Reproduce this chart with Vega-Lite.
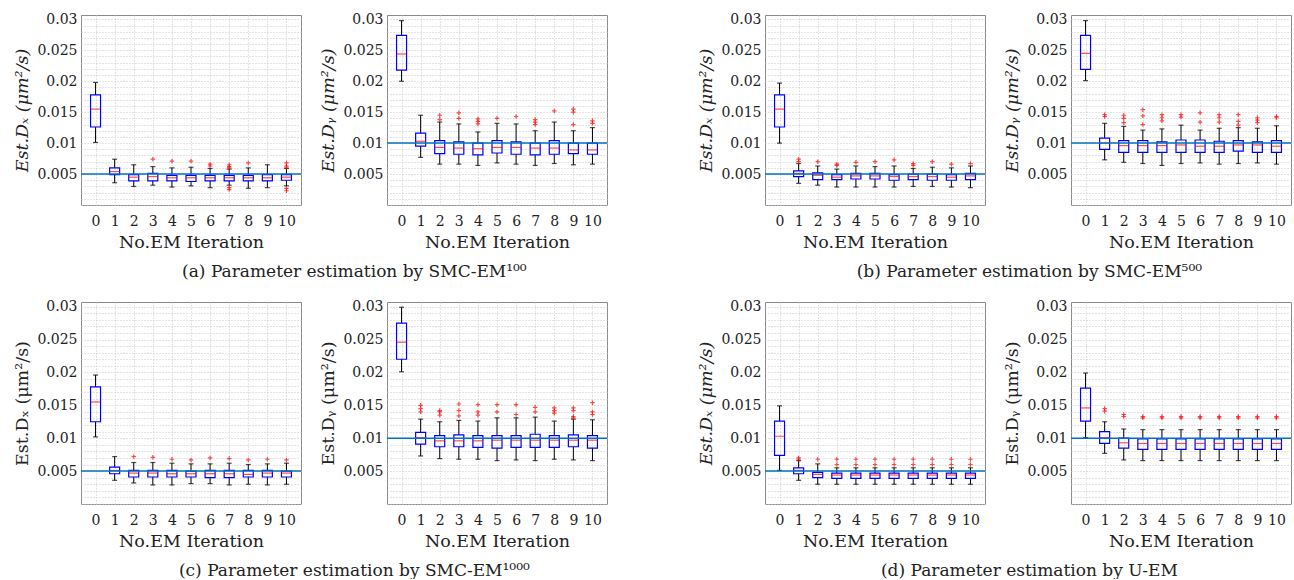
{
 "$schema": "https://vega.github.io/schema/vega-lite/v6.json",
 "padding": {"left": 12, "top": 11, "right": 0, "bottom": 0},
 "background": "white",
 "config": {
  "font": "DejaVu Serif",
  "view": {"stroke": "#8a8a8a", "strokeWidth": 1},
  "axis": {"domain": false, "ticks": false, "grid": true, "gridColor": "#c8c8c8", "gridDash": [1, 2], "labelFont": "DejaVu Serif", "labelFontSize": 14, "labelColor": "#222", "titleFont": "DejaVu Serif", "titleFontSize": 17.5, "titleFontWeight": "normal", "titleColor": "#222", "labelOverlap": false},
  "axisX": {"labelAngle": 0, "labelPadding": 9, "titlePadding": 5},
  "axisY": {"labelPadding": 4, "titlePadding": 6, "minExtent": 44, "maxExtent": 44},
  "title": {"font": "DejaVu Serif", "fontSize": 17, "fontWeight": "normal", "orient": "bottom", "anchor": "middle", "color": "#222", "offset": 13}
 },
 "datasets": {
  "b": [
   {"p":"a1","i":0,"lo":0.0101,"q1":0.0126,"m":0.0155,"q3":0.0178,"hi":0.0198},
   {"p":"a1","i":1,"lo":0.0036,"q1":0.0049,"m":0.0054,"q3":0.0060,"hi":0.0074},
   {"p":"a1","i":2,"lo":0.0030,"q1":0.0039,"m":0.0045,"q3":0.0049,"hi":0.0065},
   {"p":"a1","i":3,"lo":0.0032,"q1":0.0039,"m":0.0046,"q3":0.0051,"hi":0.0062},
   {"p":"a1","i":4,"lo":0.0029,"q1":0.0039,"m":0.0044,"q3":0.0048,"hi":0.0060},
   {"p":"a1","i":5,"lo":0.0031,"q1":0.0038,"m":0.0044,"q3":0.0048,"hi":0.0061},
   {"p":"a1","i":6,"lo":0.0028,"q1":0.0039,"m":0.0044,"q3":0.0048,"hi":0.0059},
   {"p":"a1","i":7,"lo":0.0032,"q1":0.0039,"m":0.0044,"q3":0.0048,"hi":0.0058},
   {"p":"a1","i":8,"lo":0.0027,"q1":0.0039,"m":0.0044,"q3":0.0048,"hi":0.0060},
   {"p":"a1","i":9,"lo":0.0028,"q1":0.0039,"m":0.0044,"q3":0.0049,"hi":0.0065},
   {"p":"a1","i":10,"lo":0.0031,"q1":0.0040,"m":0.0045,"q3":0.0049,"hi":0.0059},
   {"p":"a2","i":0,"lo":0.0200,"q1":0.0218,"m":0.0244,"q3":0.0274,"hi":0.0298},
   {"p":"a2","i":1,"lo":0.0077,"q1":0.0095,"m":0.0103,"q3":0.0116,"hi":0.0145},
   {"p":"a2","i":2,"lo":0.0066,"q1":0.0083,"m":0.0093,"q3":0.0104,"hi":0.0134},
   {"p":"a2","i":3,"lo":0.0066,"q1":0.0082,"m":0.0092,"q3":0.0102,"hi":0.0131},
   {"p":"a2","i":4,"lo":0.0064,"q1":0.0081,"m":0.0091,"q3":0.0100,"hi":0.0118},
   {"p":"a2","i":5,"lo":0.0068,"q1":0.0084,"m":0.0093,"q3":0.0104,"hi":0.0132},
   {"p":"a2","i":6,"lo":0.0066,"q1":0.0082,"m":0.0093,"q3":0.0102,"hi":0.0131},
   {"p":"a2","i":7,"lo":0.0064,"q1":0.0081,"m":0.0092,"q3":0.0100,"hi":0.0120},
   {"p":"a2","i":8,"lo":0.0067,"q1":0.0082,"m":0.0092,"q3":0.0104,"hi":0.0134},
   {"p":"a2","i":9,"lo":0.0065,"q1":0.0083,"m":0.0089,"q3":0.0100,"hi":0.0120},
   {"p":"a2","i":10,"lo":0.0066,"q1":0.0082,"m":0.0089,"q3":0.0100,"hi":0.0125},
   {"p":"b1","i":0,"lo":0.0100,"q1":0.0126,"m":0.0155,"q3":0.0178,"hi":0.0197},
   {"p":"b1","i":1,"lo":0.0035,"q1":0.0046,"m":0.0051,"q3":0.0055,"hi":0.0067},
   {"p":"b1","i":2,"lo":0.0032,"q1":0.0041,"m":0.0048,"q3":0.0052,"hi":0.0063},
   {"p":"b1","i":3,"lo":0.0029,"q1":0.0041,"m":0.0045,"q3":0.0049,"hi":0.0058},
   {"p":"b1","i":4,"lo":0.0029,"q1":0.0042,"m":0.0047,"q3":0.0051,"hi":0.0063},
   {"p":"b1","i":5,"lo":0.0029,"q1":0.0042,"m":0.0047,"q3":0.0051,"hi":0.0062},
   {"p":"b1","i":6,"lo":0.0029,"q1":0.0040,"m":0.0046,"q3":0.0049,"hi":0.0063},
   {"p":"b1","i":7,"lo":0.0030,"q1":0.0041,"m":0.0046,"q3":0.0050,"hi":0.0059},
   {"p":"b1","i":8,"lo":0.0030,"q1":0.0040,"m":0.0046,"q3":0.0050,"hi":0.0061},
   {"p":"b1","i":9,"lo":0.0029,"q1":0.0040,"m":0.0045,"q3":0.0049,"hi":0.0060},
   {"p":"b1","i":10,"lo":0.0028,"q1":0.0041,"m":0.0047,"q3":0.0051,"hi":0.0063},
   {"p":"b2","i":0,"lo":0.0201,"q1":0.0219,"m":0.0245,"q3":0.0274,"hi":0.0298},
   {"p":"b2","i":1,"lo":0.0073,"q1":0.0090,"m":0.0100,"q3":0.0108,"hi":0.0132},
   {"p":"b2","i":2,"lo":0.0069,"q1":0.0085,"m":0.0096,"q3":0.0104,"hi":0.0127},
   {"p":"b2","i":3,"lo":0.0067,"q1":0.0085,"m":0.0096,"q3":0.0104,"hi":0.0121},
   {"p":"b2","i":4,"lo":0.0064,"q1":0.0085,"m":0.0096,"q3":0.0102,"hi":0.0123},
   {"p":"b2","i":5,"lo":0.0067,"q1":0.0085,"m":0.0097,"q3":0.0105,"hi":0.0129},
   {"p":"b2","i":6,"lo":0.0068,"q1":0.0085,"m":0.0095,"q3":0.0105,"hi":0.0121},
   {"p":"b2","i":7,"lo":0.0066,"q1":0.0085,"m":0.0095,"q3":0.0103,"hi":0.0124},
   {"p":"b2","i":8,"lo":0.0067,"q1":0.0087,"m":0.0097,"q3":0.0104,"hi":0.0125},
   {"p":"b2","i":9,"lo":0.0068,"q1":0.0085,"m":0.0097,"q3":0.0102,"hi":0.0124},
   {"p":"b2","i":10,"lo":0.0066,"q1":0.0085,"m":0.0095,"q3":0.0104,"hi":0.0128},
   {"p":"c1","i":0,"lo":0.0102,"q1":0.0125,"m":0.0155,"q3":0.0178,"hi":0.0196},
   {"p":"c1","i":1,"lo":0.0036,"q1":0.0046,"m":0.0051,"q3":0.0056,"hi":0.0072},
   {"p":"c1","i":2,"lo":0.0032,"q1":0.0041,"m":0.0047,"q3":0.0051,"hi":0.0063},
   {"p":"c1","i":3,"lo":0.0029,"q1":0.0041,"m":0.0047,"q3":0.0051,"hi":0.0063},
   {"p":"c1","i":4,"lo":0.0029,"q1":0.0041,"m":0.0046,"q3":0.0051,"hi":0.0062},
   {"p":"c1","i":5,"lo":0.0031,"q1":0.0041,"m":0.0046,"q3":0.0050,"hi":0.0061},
   {"p":"c1","i":6,"lo":0.0031,"q1":0.0040,"m":0.0046,"q3":0.0051,"hi":0.0061},
   {"p":"c1","i":7,"lo":0.0029,"q1":0.0040,"m":0.0046,"q3":0.0051,"hi":0.0062},
   {"p":"c1","i":8,"lo":0.0030,"q1":0.0041,"m":0.0045,"q3":0.0051,"hi":0.0060},
   {"p":"c1","i":9,"lo":0.0029,"q1":0.0041,"m":0.0047,"q3":0.0051,"hi":0.0061},
   {"p":"c1","i":10,"lo":0.0030,"q1":0.0041,"m":0.0047,"q3":0.0050,"hi":0.0062},
   {"p":"c2","i":0,"lo":0.0201,"q1":0.0220,"m":0.0246,"q3":0.0275,"hi":0.0299},
   {"p":"c2","i":1,"lo":0.0073,"q1":0.0091,"m":0.0101,"q3":0.0109,"hi":0.0129},
   {"p":"c2","i":2,"lo":0.0069,"q1":0.0087,"m":0.0096,"q3":0.0104,"hi":0.0125},
   {"p":"c2","i":3,"lo":0.0068,"q1":0.0087,"m":0.0096,"q3":0.0105,"hi":0.0127},
   {"p":"c2","i":4,"lo":0.0068,"q1":0.0086,"m":0.0096,"q3":0.0104,"hi":0.0126},
   {"p":"c2","i":5,"lo":0.0066,"q1":0.0085,"m":0.0097,"q3":0.0104,"hi":0.0131},
   {"p":"c2","i":6,"lo":0.0067,"q1":0.0086,"m":0.0097,"q3":0.0104,"hi":0.0131},
   {"p":"c2","i":7,"lo":0.0066,"q1":0.0086,"m":0.0097,"q3":0.0106,"hi":0.0132},
   {"p":"c2","i":8,"lo":0.0068,"q1":0.0086,"m":0.0097,"q3":0.0104,"hi":0.0126},
   {"p":"c2","i":9,"lo":0.0067,"q1":0.0087,"m":0.0097,"q3":0.0105,"hi":0.0129},
   {"p":"c2","i":10,"lo":0.0066,"q1":0.0085,"m":0.0097,"q3":0.0104,"hi":0.0128},
   {"p":"d1","i":0,"lo":0.0051,"q1":0.0074,"m":0.0103,"q3":0.0126,"hi":0.0149},
   {"p":"d1","i":1,"lo":0.0036,"q1":0.0046,"m":0.0051,"q3":0.0055,"hi":0.0066},
   {"p":"d1","i":2,"lo":0.0030,"q1":0.0040,"m":0.0045,"q3":0.0048,"hi":0.0061},
   {"p":"d1","i":3,"lo":0.0030,"q1":0.0039,"m":0.0044,"q3":0.0047,"hi":0.0055},
   {"p":"d1","i":4,"lo":0.0030,"q1":0.0039,"m":0.0044,"q3":0.0047,"hi":0.0055},
   {"p":"d1","i":5,"lo":0.0030,"q1":0.0039,"m":0.0044,"q3":0.0047,"hi":0.0055},
   {"p":"d1","i":6,"lo":0.0030,"q1":0.0039,"m":0.0044,"q3":0.0047,"hi":0.0055},
   {"p":"d1","i":7,"lo":0.0030,"q1":0.0039,"m":0.0044,"q3":0.0047,"hi":0.0055},
   {"p":"d1","i":8,"lo":0.0030,"q1":0.0039,"m":0.0044,"q3":0.0047,"hi":0.0055},
   {"p":"d1","i":9,"lo":0.0030,"q1":0.0039,"m":0.0044,"q3":0.0047,"hi":0.0055},
   {"p":"d1","i":10,"lo":0.0030,"q1":0.0039,"m":0.0044,"q3":0.0047,"hi":0.0055},
   {"p":"d2","i":0,"lo":0.0101,"q1":0.0126,"m":0.0146,"q3":0.0176,"hi":0.0199},
   {"p":"d2","i":1,"lo":0.0077,"q1":0.0092,"m":0.0101,"q3":0.0110,"hi":0.0125},
   {"p":"d2","i":2,"lo":0.0067,"q1":0.0085,"m":0.0093,"q3":0.0100,"hi":0.0114},
   {"p":"d2","i":3,"lo":0.0066,"q1":0.0083,"m":0.0092,"q3":0.0099,"hi":0.0113},
   {"p":"d2","i":4,"lo":0.0066,"q1":0.0083,"m":0.0092,"q3":0.0099,"hi":0.0113},
   {"p":"d2","i":5,"lo":0.0066,"q1":0.0083,"m":0.0092,"q3":0.0099,"hi":0.0113},
   {"p":"d2","i":6,"lo":0.0066,"q1":0.0083,"m":0.0092,"q3":0.0099,"hi":0.0113},
   {"p":"d2","i":7,"lo":0.0066,"q1":0.0083,"m":0.0092,"q3":0.0099,"hi":0.0113},
   {"p":"d2","i":8,"lo":0.0066,"q1":0.0083,"m":0.0092,"q3":0.0099,"hi":0.0113},
   {"p":"d2","i":9,"lo":0.0066,"q1":0.0083,"m":0.0092,"q3":0.0099,"hi":0.0113},
   {"p":"d2","i":10,"lo":0.0066,"q1":0.0083,"m":0.0092,"q3":0.0099,"hi":0.0113}
  ],
  "o": [
   {"p":"a1","i":3,"v":0.0074},{"p":"a1","i":4,"v":0.0071},{"p":"a1","i":5,"v":0.0071},
   {"p":"a1","i":6,"v":0.0066},{"p":"a1","i":6,"v":0.0063},
   {"p":"a1","i":7,"v":0.0065},{"p":"a1","i":7,"v":0.0062},{"p":"a1","i":7,"v":0.0060},{"p":"a1","i":7,"v":0.0028},{"p":"a1","i":7,"v":0.0025},
   {"p":"a1","i":8,"v":0.0068},
   {"p":"a1","i":10,"v":0.0068},{"p":"a1","i":10,"v":0.0063},{"p":"a1","i":10,"v":0.0061},{"p":"a1","i":10,"v":0.0027},{"p":"a1","i":10,"v":0.0023},
   {"p":"a2","i":2,"v":0.0145},{"p":"a2","i":2,"v":0.0138},
   {"p":"a2","i":3,"v":0.0149},{"p":"a2","i":3,"v":0.0140},
   {"p":"a2","i":4,"v":0.0139},{"p":"a2","i":4,"v":0.0135},{"p":"a2","i":4,"v":0.0131},
   {"p":"a2","i":5,"v":0.0140},
   {"p":"a2","i":6,"v":0.0143},
   {"p":"a2","i":7,"v":0.0138},{"p":"a2","i":7,"v":0.0134},{"p":"a2","i":7,"v":0.0130},
   {"p":"a2","i":8,"v":0.0152},
   {"p":"a2","i":9,"v":0.0155},{"p":"a2","i":9,"v":0.0150},{"p":"a2","i":9,"v":0.0130},
   {"p":"a2","i":10,"v":0.0136},{"p":"a2","i":10,"v":0.0132},
   {"p":"b1","i":1,"v":0.0074},{"p":"b1","i":1,"v":0.0070},
   {"p":"b1","i":2,"v":0.0070},
   {"p":"b1","i":3,"v":0.0066},{"p":"b1","i":3,"v":0.0064},
   {"p":"b1","i":4,"v":0.0069},{"p":"b1","i":5,"v":0.0070},{"p":"b1","i":6,"v":0.0073},
   {"p":"b1","i":7,"v":0.0067},{"p":"b1","i":7,"v":0.0064},
   {"p":"b1","i":8,"v":0.0070},{"p":"b1","i":9,"v":0.0066},{"p":"b1","i":10,"v":0.0067},
   {"p":"b2","i":1,"v":0.0146},{"p":"b2","i":1,"v":0.0143},
   {"p":"b2","i":2,"v":0.0145},{"p":"b2","i":2,"v":0.0140},{"p":"b2","i":2,"v":0.0133},
   {"p":"b2","i":3,"v":0.0154},{"p":"b2","i":3,"v":0.0144},{"p":"b2","i":3,"v":0.0130},
   {"p":"b2","i":4,"v":0.0146},{"p":"b2","i":4,"v":0.0141},{"p":"b2","i":4,"v":0.0136},
   {"p":"b2","i":5,"v":0.0146},{"p":"b2","i":5,"v":0.0142},
   {"p":"b2","i":6,"v":0.0149},{"p":"b2","i":6,"v":0.0134},
   {"p":"b2","i":7,"v":0.0146},{"p":"b2","i":7,"v":0.0141},{"p":"b2","i":7,"v":0.0134},
   {"p":"b2","i":8,"v":0.0146},{"p":"b2","i":8,"v":0.0135},{"p":"b2","i":8,"v":0.0129},
   {"p":"b2","i":9,"v":0.0141},{"p":"b2","i":9,"v":0.0137},{"p":"b2","i":9,"v":0.0133},
   {"p":"b2","i":10,"v":0.0143},{"p":"b2","i":10,"v":0.0141},
   {"p":"c1","i":2,"v":0.0072},{"p":"c1","i":3,"v":0.0071},{"p":"c1","i":4,"v":0.0068},
   {"p":"c1","i":5,"v":0.0067},{"p":"c1","i":6,"v":0.0070},{"p":"c1","i":7,"v":0.0069},
   {"p":"c1","i":8,"v":0.0067},{"p":"c1","i":9,"v":0.0068},{"p":"c1","i":10,"v":0.0067},
   {"p":"c2","i":1,"v":0.0150},{"p":"c2","i":1,"v":0.0145},{"p":"c2","i":1,"v":0.0140},
   {"p":"c2","i":2,"v":0.0142},{"p":"c2","i":2,"v":0.0140},{"p":"c2","i":2,"v":0.0135},
   {"p":"c2","i":3,"v":0.0152},{"p":"c2","i":3,"v":0.0142},{"p":"c2","i":3,"v":0.0134},
   {"p":"c2","i":4,"v":0.0151},{"p":"c2","i":4,"v":0.0140},{"p":"c2","i":4,"v":0.0135},
   {"p":"c2","i":5,"v":0.0151},{"p":"c2","i":5,"v":0.0140},
   {"p":"c2","i":6,"v":0.0151},{"p":"c2","i":6,"v":0.0136},
   {"p":"c2","i":7,"v":0.0147},{"p":"c2","i":7,"v":0.0140},
   {"p":"c2","i":8,"v":0.0146},{"p":"c2","i":8,"v":0.0142},{"p":"c2","i":8,"v":0.0138},
   {"p":"c2","i":9,"v":0.0146},{"p":"c2","i":9,"v":0.0142},{"p":"c2","i":9,"v":0.0133},{"p":"c2","i":9,"v":0.0131},
   {"p":"c2","i":10,"v":0.0154},{"p":"c2","i":10,"v":0.0140},{"p":"c2","i":10,"v":0.0136},
   {"p":"d1","i":1,"v":0.0070},{"p":"d1","i":1,"v":0.0068},
   {"p":"d1","i":2,"v":0.0068},
   {"p":"d1","i":3,"v":0.0068},{"p":"d1","i":3,"v":0.0060},
   {"p":"d1","i":4,"v":0.0068},{"p":"d1","i":4,"v":0.0060},
   {"p":"d1","i":5,"v":0.0068},{"p":"d1","i":5,"v":0.0060},
   {"p":"d1","i":6,"v":0.0068},{"p":"d1","i":6,"v":0.0060},
   {"p":"d1","i":7,"v":0.0068},{"p":"d1","i":7,"v":0.0060},
   {"p":"d1","i":8,"v":0.0068},{"p":"d1","i":8,"v":0.0060},
   {"p":"d1","i":9,"v":0.0068},{"p":"d1","i":9,"v":0.0060},
   {"p":"d1","i":10,"v":0.0068},{"p":"d1","i":10,"v":0.0060},
   {"p":"d2","i":1,"v":0.0145},{"p":"d2","i":1,"v":0.0141},
   {"p":"d2","i":2,"v":0.0136},{"p":"d2","i":2,"v":0.0133},
   {"p":"d2","i":3,"v":0.0133},{"p":"d2","i":3,"v":0.0131},
   {"p":"d2","i":4,"v":0.0133},{"p":"d2","i":4,"v":0.0131},
   {"p":"d2","i":5,"v":0.0133},{"p":"d2","i":5,"v":0.0131},
   {"p":"d2","i":6,"v":0.0133},{"p":"d2","i":6,"v":0.0131},
   {"p":"d2","i":7,"v":0.0133},{"p":"d2","i":7,"v":0.0131},
   {"p":"d2","i":8,"v":0.0133},{"p":"d2","i":8,"v":0.0131},
   {"p":"d2","i":9,"v":0.0133},{"p":"d2","i":9,"v":0.0131},
   {"p":"d2","i":10,"v":0.0133},{"p":"d2","i":10,"v":0.0131}
  ]
 },
 "spacing": 19,
 "vconcat": [
  {"spacing": 87, "hconcat": [
   {"title": {"text": "(a) Parameter estimation by SMC-EM¹⁰⁰", "dx": 44}, "spacing": 15, "hconcat": [
    {"width": 220, "height": 190, "layer": [
     {"data": {"name": "b"}, "transform": [{"filter": "datum.p == 'a1'"}], "layer": [
       {"mark": {"type": "rule", "color": "#000"}, "encoding": {"x": {"field": "i", "type": "quantitative", "scale": {"domain": [-0.5, 10.5], "nice": false, "zero": false}, "axis": {"tickCount": 11, "labelOverlap": false, "title": "No.EM Iteration"}}, "y": {"field": "q3", "type": "quantitative", "scale": {"domain": [0, 0.0307], "nice": false, "zero": true}, "axis": {"tickCount": 31, "labelOverlap": false, "labelExpr": "datum.value > 0.0001 && round(datum.value*1000) % 5 === 0 ? format(datum.value, '~g') : ''", "title": "Est.Dₓ (μm²/s)", "titleFontStyle": "italic"}}, "y2": {"field": "hi"}}},
       {"mark": {"type": "rule", "color": "#000"}, "encoding": {"x": {"field": "i", "type": "quantitative", "axis": {"tickCount": 11, "labelOverlap": false, "title": "No.EM Iteration"}}, "y": {"field": "lo", "type": "quantitative", "axis": {"tickCount": 31, "labelOverlap": false, "labelExpr": "datum.value > 0.0001 && round(datum.value*1000) % 5 === 0 ? format(datum.value, '~g') : ''", "title": "Est.Dₓ (μm²/s)", "titleFontStyle": "italic"}}, "y2": {"field": "q1"}}},
       {"mark": {"type": "bar", "filled": false, "color": "#0000ff", "width": 10, "strokeWidth": 1.2}, "encoding": {"x": {"field": "i", "type": "quantitative", "axis": {"tickCount": 11, "labelOverlap": false, "title": "No.EM Iteration"}}, "y": {"field": "q1", "type": "quantitative", "axis": {"tickCount": 31, "labelOverlap": false, "labelExpr": "datum.value > 0.0001 && round(datum.value*1000) % 5 === 0 ? format(datum.value, '~g') : ''", "title": "Est.Dₓ (μm²/s)", "titleFontStyle": "italic"}}, "y2": {"field": "q3"}}},
       {"mark": {"type": "tick", "orient": "horizontal", "color": "#ff0000", "size": 10, "thickness": 1.2}, "encoding": {"x": {"field": "i", "type": "quantitative", "axis": {"tickCount": 11, "labelOverlap": false, "title": "No.EM Iteration"}}, "y": {"field": "m", "type": "quantitative", "axis": {"tickCount": 31, "labelOverlap": false, "labelExpr": "datum.value > 0.0001 && round(datum.value*1000) % 5 === 0 ? format(datum.value, '~g') : ''", "title": "Est.Dₓ (μm²/s)", "titleFontStyle": "italic"}}}},
       {"mark": {"type": "tick", "orient": "horizontal", "color": "#000", "size": 5, "thickness": 1.2}, "encoding": {"x": {"field": "i", "type": "quantitative", "axis": {"tickCount": 11, "labelOverlap": false, "title": "No.EM Iteration"}}, "y": {"field": "hi", "type": "quantitative", "axis": {"tickCount": 31, "labelOverlap": false, "labelExpr": "datum.value > 0.0001 && round(datum.value*1000) % 5 === 0 ? format(datum.value, '~g') : ''", "title": "Est.Dₓ (μm²/s)", "titleFontStyle": "italic"}}}},
       {"mark": {"type": "tick", "orient": "horizontal", "color": "#000", "size": 5, "thickness": 1.2}, "encoding": {"x": {"field": "i", "type": "quantitative", "axis": {"tickCount": 11, "labelOverlap": false, "title": "No.EM Iteration"}}, "y": {"field": "lo", "type": "quantitative", "axis": {"tickCount": 31, "labelOverlap": false, "labelExpr": "datum.value > 0.0001 && round(datum.value*1000) % 5 === 0 ? format(datum.value, '~g') : ''", "title": "Est.Dₓ (μm²/s)", "titleFontStyle": "italic"}}}}
     ]},
     {"data": {"name": "o"}, "transform": [{"filter": "datum.p == 'a1'"}], "mark": {"type": "point", "shape": "M-1,0L1,0M0,-1L0,1", "filled": false, "color": "#ff0000", "size": 20, "strokeWidth": 1.2}, "encoding": {"x": {"field": "i", "type": "quantitative", "axis": {"tickCount": 11, "labelOverlap": false, "title": "No.EM Iteration"}}, "y": {"field": "v", "type": "quantitative", "axis": {"tickCount": 31, "labelOverlap": false, "labelExpr": "datum.value > 0.0001 && round(datum.value*1000) % 5 === 0 ? format(datum.value, '~g') : ''", "title": "Est.Dₓ (μm²/s)", "titleFontStyle": "italic"}}}},
     {"data": {"values": [{"r": 0.005}]}, "mark": {"type": "rule", "color": "#0072BD", "strokeWidth": 1.5}, "encoding": {"y": {"field": "r", "type": "quantitative", "axis": {"tickCount": 31, "labelOverlap": false, "labelExpr": "datum.value > 0.0001 && round(datum.value*1000) % 5 === 0 ? format(datum.value, '~g') : ''", "title": "Est.Dₓ (μm²/s)", "titleFontStyle": "italic"}}}}
    ]},
    {"width": 220, "height": 190, "layer": [
     {"data": {"name": "b"}, "transform": [{"filter": "datum.p == 'a2'"}], "layer": [
       {"mark": {"type": "rule", "color": "#000"}, "encoding": {"x": {"field": "i", "type": "quantitative", "scale": {"domain": [-0.5, 10.5], "nice": false, "zero": false}, "axis": {"tickCount": 11, "labelOverlap": false, "title": "No.EM Iteration"}}, "y": {"field": "q3", "type": "quantitative", "scale": {"domain": [0, 0.0307], "nice": false, "zero": true}, "axis": {"tickCount": 31, "labelOverlap": false, "labelExpr": "datum.value > 0.0001 && round(datum.value*1000) % 5 === 0 ? format(datum.value, '~g') : ''", "title": "Est.Dᵧ (μm²/s)", "titleFontStyle": "italic"}}, "y2": {"field": "hi"}}},
       {"mark": {"type": "rule", "color": "#000"}, "encoding": {"x": {"field": "i", "type": "quantitative", "axis": {"tickCount": 11, "labelOverlap": false, "title": "No.EM Iteration"}}, "y": {"field": "lo", "type": "quantitative", "axis": {"tickCount": 31, "labelOverlap": false, "labelExpr": "datum.value > 0.0001 && round(datum.value*1000) % 5 === 0 ? format(datum.value, '~g') : ''", "title": "Est.Dᵧ (μm²/s)", "titleFontStyle": "italic"}}, "y2": {"field": "q1"}}},
       {"mark": {"type": "bar", "filled": false, "color": "#0000ff", "width": 10, "strokeWidth": 1.2}, "encoding": {"x": {"field": "i", "type": "quantitative", "axis": {"tickCount": 11, "labelOverlap": false, "title": "No.EM Iteration"}}, "y": {"field": "q1", "type": "quantitative", "axis": {"tickCount": 31, "labelOverlap": false, "labelExpr": "datum.value > 0.0001 && round(datum.value*1000) % 5 === 0 ? format(datum.value, '~g') : ''", "title": "Est.Dᵧ (μm²/s)", "titleFontStyle": "italic"}}, "y2": {"field": "q3"}}},
       {"mark": {"type": "tick", "orient": "horizontal", "color": "#ff0000", "size": 10, "thickness": 1.2}, "encoding": {"x": {"field": "i", "type": "quantitative", "axis": {"tickCount": 11, "labelOverlap": false, "title": "No.EM Iteration"}}, "y": {"field": "m", "type": "quantitative", "axis": {"tickCount": 31, "labelOverlap": false, "labelExpr": "datum.value > 0.0001 && round(datum.value*1000) % 5 === 0 ? format(datum.value, '~g') : ''", "title": "Est.Dᵧ (μm²/s)", "titleFontStyle": "italic"}}}},
       {"mark": {"type": "tick", "orient": "horizontal", "color": "#000", "size": 5, "thickness": 1.2}, "encoding": {"x": {"field": "i", "type": "quantitative", "axis": {"tickCount": 11, "labelOverlap": false, "title": "No.EM Iteration"}}, "y": {"field": "hi", "type": "quantitative", "axis": {"tickCount": 31, "labelOverlap": false, "labelExpr": "datum.value > 0.0001 && round(datum.value*1000) % 5 === 0 ? format(datum.value, '~g') : ''", "title": "Est.Dᵧ (μm²/s)", "titleFontStyle": "italic"}}}},
       {"mark": {"type": "tick", "orient": "horizontal", "color": "#000", "size": 5, "thickness": 1.2}, "encoding": {"x": {"field": "i", "type": "quantitative", "axis": {"tickCount": 11, "labelOverlap": false, "title": "No.EM Iteration"}}, "y": {"field": "lo", "type": "quantitative", "axis": {"tickCount": 31, "labelOverlap": false, "labelExpr": "datum.value > 0.0001 && round(datum.value*1000) % 5 === 0 ? format(datum.value, '~g') : ''", "title": "Est.Dᵧ (μm²/s)", "titleFontStyle": "italic"}}}}
     ]},
     {"data": {"name": "o"}, "transform": [{"filter": "datum.p == 'a2'"}], "mark": {"type": "point", "shape": "M-1,0L1,0M0,-1L0,1", "filled": false, "color": "#ff0000", "size": 20, "strokeWidth": 1.2}, "encoding": {"x": {"field": "i", "type": "quantitative", "axis": {"tickCount": 11, "labelOverlap": false, "title": "No.EM Iteration"}}, "y": {"field": "v", "type": "quantitative", "axis": {"tickCount": 31, "labelOverlap": false, "labelExpr": "datum.value > 0.0001 && round(datum.value*1000) % 5 === 0 ? format(datum.value, '~g') : ''", "title": "Est.Dᵧ (μm²/s)", "titleFontStyle": "italic"}}}},
     {"data": {"values": [{"r": 0.01}]}, "mark": {"type": "rule", "color": "#0072BD", "strokeWidth": 1.5}, "encoding": {"y": {"field": "r", "type": "quantitative", "axis": {"tickCount": 31, "labelOverlap": false, "labelExpr": "datum.value > 0.0001 && round(datum.value*1000) % 5 === 0 ? format(datum.value, '~g') : ''", "title": "Est.Dᵧ (μm²/s)", "titleFontStyle": "italic"}}}}
    ]}
   ]},
   {"title": {"text": "(b) Parameter estimation by SMC-EM⁵⁰⁰", "dx": 35}, "spacing": 15, "hconcat": [
    {"width": 220, "height": 190, "layer": [
     {"data": {"name": "b"}, "transform": [{"filter": "datum.p == 'b1'"}], "layer": [
       {"mark": {"type": "rule", "color": "#000"}, "encoding": {"x": {"field": "i", "type": "quantitative", "scale": {"domain": [-0.5, 10.5], "nice": false, "zero": false}, "axis": {"tickCount": 11, "labelOverlap": false, "title": "No.EM Iteration"}}, "y": {"field": "q3", "type": "quantitative", "scale": {"domain": [0, 0.0307], "nice": false, "zero": true}, "axis": {"tickCount": 31, "labelOverlap": false, "labelExpr": "datum.value > 0.0001 && round(datum.value*1000) % 5 === 0 ? format(datum.value, '~g') : ''", "title": "Est.Dₓ (μm²/s)", "titleFontStyle": "italic"}}, "y2": {"field": "hi"}}},
       {"mark": {"type": "rule", "color": "#000"}, "encoding": {"x": {"field": "i", "type": "quantitative", "axis": {"tickCount": 11, "labelOverlap": false, "title": "No.EM Iteration"}}, "y": {"field": "lo", "type": "quantitative", "axis": {"tickCount": 31, "labelOverlap": false, "labelExpr": "datum.value > 0.0001 && round(datum.value*1000) % 5 === 0 ? format(datum.value, '~g') : ''", "title": "Est.Dₓ (μm²/s)", "titleFontStyle": "italic"}}, "y2": {"field": "q1"}}},
       {"mark": {"type": "bar", "filled": false, "color": "#0000ff", "width": 10, "strokeWidth": 1.2}, "encoding": {"x": {"field": "i", "type": "quantitative", "axis": {"tickCount": 11, "labelOverlap": false, "title": "No.EM Iteration"}}, "y": {"field": "q1", "type": "quantitative", "axis": {"tickCount": 31, "labelOverlap": false, "labelExpr": "datum.value > 0.0001 && round(datum.value*1000) % 5 === 0 ? format(datum.value, '~g') : ''", "title": "Est.Dₓ (μm²/s)", "titleFontStyle": "italic"}}, "y2": {"field": "q3"}}},
       {"mark": {"type": "tick", "orient": "horizontal", "color": "#ff0000", "size": 10, "thickness": 1.2}, "encoding": {"x": {"field": "i", "type": "quantitative", "axis": {"tickCount": 11, "labelOverlap": false, "title": "No.EM Iteration"}}, "y": {"field": "m", "type": "quantitative", "axis": {"tickCount": 31, "labelOverlap": false, "labelExpr": "datum.value > 0.0001 && round(datum.value*1000) % 5 === 0 ? format(datum.value, '~g') : ''", "title": "Est.Dₓ (μm²/s)", "titleFontStyle": "italic"}}}},
       {"mark": {"type": "tick", "orient": "horizontal", "color": "#000", "size": 5, "thickness": 1.2}, "encoding": {"x": {"field": "i", "type": "quantitative", "axis": {"tickCount": 11, "labelOverlap": false, "title": "No.EM Iteration"}}, "y": {"field": "hi", "type": "quantitative", "axis": {"tickCount": 31, "labelOverlap": false, "labelExpr": "datum.value > 0.0001 && round(datum.value*1000) % 5 === 0 ? format(datum.value, '~g') : ''", "title": "Est.Dₓ (μm²/s)", "titleFontStyle": "italic"}}}},
       {"mark": {"type": "tick", "orient": "horizontal", "color": "#000", "size": 5, "thickness": 1.2}, "encoding": {"x": {"field": "i", "type": "quantitative", "axis": {"tickCount": 11, "labelOverlap": false, "title": "No.EM Iteration"}}, "y": {"field": "lo", "type": "quantitative", "axis": {"tickCount": 31, "labelOverlap": false, "labelExpr": "datum.value > 0.0001 && round(datum.value*1000) % 5 === 0 ? format(datum.value, '~g') : ''", "title": "Est.Dₓ (μm²/s)", "titleFontStyle": "italic"}}}}
     ]},
     {"data": {"name": "o"}, "transform": [{"filter": "datum.p == 'b1'"}], "mark": {"type": "point", "shape": "M-1,0L1,0M0,-1L0,1", "filled": false, "color": "#ff0000", "size": 20, "strokeWidth": 1.2}, "encoding": {"x": {"field": "i", "type": "quantitative", "axis": {"tickCount": 11, "labelOverlap": false, "title": "No.EM Iteration"}}, "y": {"field": "v", "type": "quantitative", "axis": {"tickCount": 31, "labelOverlap": false, "labelExpr": "datum.value > 0.0001 && round(datum.value*1000) % 5 === 0 ? format(datum.value, '~g') : ''", "title": "Est.Dₓ (μm²/s)", "titleFontStyle": "italic"}}}},
     {"data": {"values": [{"r": 0.005}]}, "mark": {"type": "rule", "color": "#0072BD", "strokeWidth": 1.5}, "encoding": {"y": {"field": "r", "type": "quantitative", "axis": {"tickCount": 31, "labelOverlap": false, "labelExpr": "datum.value > 0.0001 && round(datum.value*1000) % 5 === 0 ? format(datum.value, '~g') : ''", "title": "Est.Dₓ (μm²/s)", "titleFontStyle": "italic"}}}}
    ]},
    {"width": 220, "height": 190, "layer": [
     {"data": {"name": "b"}, "transform": [{"filter": "datum.p == 'b2'"}], "layer": [
       {"mark": {"type": "rule", "color": "#000"}, "encoding": {"x": {"field": "i", "type": "quantitative", "scale": {"domain": [-0.5, 10.5], "nice": false, "zero": false}, "axis": {"tickCount": 11, "labelOverlap": false, "title": "No.EM Iteration"}}, "y": {"field": "q3", "type": "quantitative", "scale": {"domain": [0, 0.0307], "nice": false, "zero": true}, "axis": {"tickCount": 31, "labelOverlap": false, "labelExpr": "datum.value > 0.0001 && round(datum.value*1000) % 5 === 0 ? format(datum.value, '~g') : ''", "title": "Est.Dᵧ (μm²/s)", "titleFontStyle": "italic"}}, "y2": {"field": "hi"}}},
       {"mark": {"type": "rule", "color": "#000"}, "encoding": {"x": {"field": "i", "type": "quantitative", "axis": {"tickCount": 11, "labelOverlap": false, "title": "No.EM Iteration"}}, "y": {"field": "lo", "type": "quantitative", "axis": {"tickCount": 31, "labelOverlap": false, "labelExpr": "datum.value > 0.0001 && round(datum.value*1000) % 5 === 0 ? format(datum.value, '~g') : ''", "title": "Est.Dᵧ (μm²/s)", "titleFontStyle": "italic"}}, "y2": {"field": "q1"}}},
       {"mark": {"type": "bar", "filled": false, "color": "#0000ff", "width": 10, "strokeWidth": 1.2}, "encoding": {"x": {"field": "i", "type": "quantitative", "axis": {"tickCount": 11, "labelOverlap": false, "title": "No.EM Iteration"}}, "y": {"field": "q1", "type": "quantitative", "axis": {"tickCount": 31, "labelOverlap": false, "labelExpr": "datum.value > 0.0001 && round(datum.value*1000) % 5 === 0 ? format(datum.value, '~g') : ''", "title": "Est.Dᵧ (μm²/s)", "titleFontStyle": "italic"}}, "y2": {"field": "q3"}}},
       {"mark": {"type": "tick", "orient": "horizontal", "color": "#ff0000", "size": 10, "thickness": 1.2}, "encoding": {"x": {"field": "i", "type": "quantitative", "axis": {"tickCount": 11, "labelOverlap": false, "title": "No.EM Iteration"}}, "y": {"field": "m", "type": "quantitative", "axis": {"tickCount": 31, "labelOverlap": false, "labelExpr": "datum.value > 0.0001 && round(datum.value*1000) % 5 === 0 ? format(datum.value, '~g') : ''", "title": "Est.Dᵧ (μm²/s)", "titleFontStyle": "italic"}}}},
       {"mark": {"type": "tick", "orient": "horizontal", "color": "#000", "size": 5, "thickness": 1.2}, "encoding": {"x": {"field": "i", "type": "quantitative", "axis": {"tickCount": 11, "labelOverlap": false, "title": "No.EM Iteration"}}, "y": {"field": "hi", "type": "quantitative", "axis": {"tickCount": 31, "labelOverlap": false, "labelExpr": "datum.value > 0.0001 && round(datum.value*1000) % 5 === 0 ? format(datum.value, '~g') : ''", "title": "Est.Dᵧ (μm²/s)", "titleFontStyle": "italic"}}}},
       {"mark": {"type": "tick", "orient": "horizontal", "color": "#000", "size": 5, "thickness": 1.2}, "encoding": {"x": {"field": "i", "type": "quantitative", "axis": {"tickCount": 11, "labelOverlap": false, "title": "No.EM Iteration"}}, "y": {"field": "lo", "type": "quantitative", "axis": {"tickCount": 31, "labelOverlap": false, "labelExpr": "datum.value > 0.0001 && round(datum.value*1000) % 5 === 0 ? format(datum.value, '~g') : ''", "title": "Est.Dᵧ (μm²/s)", "titleFontStyle": "italic"}}}}
     ]},
     {"data": {"name": "o"}, "transform": [{"filter": "datum.p == 'b2'"}], "mark": {"type": "point", "shape": "M-1,0L1,0M0,-1L0,1", "filled": false, "color": "#ff0000", "size": 20, "strokeWidth": 1.2}, "encoding": {"x": {"field": "i", "type": "quantitative", "axis": {"tickCount": 11, "labelOverlap": false, "title": "No.EM Iteration"}}, "y": {"field": "v", "type": "quantitative", "axis": {"tickCount": 31, "labelOverlap": false, "labelExpr": "datum.value > 0.0001 && round(datum.value*1000) % 5 === 0 ? format(datum.value, '~g') : ''", "title": "Est.Dᵧ (μm²/s)", "titleFontStyle": "italic"}}}},
     {"data": {"values": [{"r": 0.01}]}, "mark": {"type": "rule", "color": "#0072BD", "strokeWidth": 1.5}, "encoding": {"y": {"field": "r", "type": "quantitative", "axis": {"tickCount": 31, "labelOverlap": false, "labelExpr": "datum.value > 0.0001 && round(datum.value*1000) % 5 === 0 ? format(datum.value, '~g') : ''", "title": "Est.Dᵧ (μm²/s)", "titleFontStyle": "italic"}}}}
    ]}
   ]}
  ]},
  {"spacing": 87, "hconcat": [
   {"title": {"text": "(c) Parameter estimation by SMC-EM¹⁰⁰⁰", "dx": 44}, "spacing": 15, "hconcat": [
    {"width": 220, "height": 202, "layer": [
     {"data": {"name": "b"}, "transform": [{"filter": "datum.p == 'c1'"}], "layer": [
       {"mark": {"type": "rule", "color": "#000"}, "encoding": {"x": {"field": "i", "type": "quantitative", "scale": {"domain": [-0.5, 10.5], "nice": false, "zero": false}, "axis": {"tickCount": 11, "labelOverlap": false, "title": "No.EM Iteration"}}, "y": {"field": "q3", "type": "quantitative", "scale": {"domain": [0, 0.0307], "nice": false, "zero": true}, "axis": {"tickCount": 31, "labelOverlap": false, "labelExpr": "datum.value > 0.0001 && round(datum.value*1000) % 5 === 0 ? format(datum.value, '~g') : ''", "title": "Est.Dₓ (μm²/s)"}}, "y2": {"field": "hi"}}},
       {"mark": {"type": "rule", "color": "#000"}, "encoding": {"x": {"field": "i", "type": "quantitative", "axis": {"tickCount": 11, "labelOverlap": false, "title": "No.EM Iteration"}}, "y": {"field": "lo", "type": "quantitative", "axis": {"tickCount": 31, "labelOverlap": false, "labelExpr": "datum.value > 0.0001 && round(datum.value*1000) % 5 === 0 ? format(datum.value, '~g') : ''", "title": "Est.Dₓ (μm²/s)"}}, "y2": {"field": "q1"}}},
       {"mark": {"type": "bar", "filled": false, "color": "#0000ff", "width": 10, "strokeWidth": 1.2}, "encoding": {"x": {"field": "i", "type": "quantitative", "axis": {"tickCount": 11, "labelOverlap": false, "title": "No.EM Iteration"}}, "y": {"field": "q1", "type": "quantitative", "axis": {"tickCount": 31, "labelOverlap": false, "labelExpr": "datum.value > 0.0001 && round(datum.value*1000) % 5 === 0 ? format(datum.value, '~g') : ''", "title": "Est.Dₓ (μm²/s)"}}, "y2": {"field": "q3"}}},
       {"mark": {"type": "tick", "orient": "horizontal", "color": "#ff0000", "size": 10, "thickness": 1.2}, "encoding": {"x": {"field": "i", "type": "quantitative", "axis": {"tickCount": 11, "labelOverlap": false, "title": "No.EM Iteration"}}, "y": {"field": "m", "type": "quantitative", "axis": {"tickCount": 31, "labelOverlap": false, "labelExpr": "datum.value > 0.0001 && round(datum.value*1000) % 5 === 0 ? format(datum.value, '~g') : ''", "title": "Est.Dₓ (μm²/s)"}}}},
       {"mark": {"type": "tick", "orient": "horizontal", "color": "#000", "size": 5, "thickness": 1.2}, "encoding": {"x": {"field": "i", "type": "quantitative", "axis": {"tickCount": 11, "labelOverlap": false, "title": "No.EM Iteration"}}, "y": {"field": "hi", "type": "quantitative", "axis": {"tickCount": 31, "labelOverlap": false, "labelExpr": "datum.value > 0.0001 && round(datum.value*1000) % 5 === 0 ? format(datum.value, '~g') : ''", "title": "Est.Dₓ (μm²/s)"}}}},
       {"mark": {"type": "tick", "orient": "horizontal", "color": "#000", "size": 5, "thickness": 1.2}, "encoding": {"x": {"field": "i", "type": "quantitative", "axis": {"tickCount": 11, "labelOverlap": false, "title": "No.EM Iteration"}}, "y": {"field": "lo", "type": "quantitative", "axis": {"tickCount": 31, "labelOverlap": false, "labelExpr": "datum.value > 0.0001 && round(datum.value*1000) % 5 === 0 ? format(datum.value, '~g') : ''", "title": "Est.Dₓ (μm²/s)"}}}}
     ]},
     {"data": {"name": "o"}, "transform": [{"filter": "datum.p == 'c1'"}], "mark": {"type": "point", "shape": "M-1,0L1,0M0,-1L0,1", "filled": false, "color": "#ff0000", "size": 20, "strokeWidth": 1.2}, "encoding": {"x": {"field": "i", "type": "quantitative", "axis": {"tickCount": 11, "labelOverlap": false, "title": "No.EM Iteration"}}, "y": {"field": "v", "type": "quantitative", "axis": {"tickCount": 31, "labelOverlap": false, "labelExpr": "datum.value > 0.0001 && round(datum.value*1000) % 5 === 0 ? format(datum.value, '~g') : ''", "title": "Est.Dₓ (μm²/s)"}}}},
     {"data": {"values": [{"r": 0.005}]}, "mark": {"type": "rule", "color": "#0072BD", "strokeWidth": 1.5}, "encoding": {"y": {"field": "r", "type": "quantitative", "axis": {"tickCount": 31, "labelOverlap": false, "labelExpr": "datum.value > 0.0001 && round(datum.value*1000) % 5 === 0 ? format(datum.value, '~g') : ''", "title": "Est.Dₓ (μm²/s)"}}}}
    ]},
    {"width": 220, "height": 202, "layer": [
     {"data": {"name": "b"}, "transform": [{"filter": "datum.p == 'c2'"}], "layer": [
       {"mark": {"type": "rule", "color": "#000"}, "encoding": {"x": {"field": "i", "type": "quantitative", "scale": {"domain": [-0.5, 10.5], "nice": false, "zero": false}, "axis": {"tickCount": 11, "labelOverlap": false, "title": "No.EM Iteration"}}, "y": {"field": "q3", "type": "quantitative", "scale": {"domain": [0, 0.0307], "nice": false, "zero": true}, "axis": {"tickCount": 31, "labelOverlap": false, "labelExpr": "datum.value > 0.0001 && round(datum.value*1000) % 5 === 0 ? format(datum.value, '~g') : ''", "title": "Est.Dᵧ (μm²/s)"}}, "y2": {"field": "hi"}}},
       {"mark": {"type": "rule", "color": "#000"}, "encoding": {"x": {"field": "i", "type": "quantitative", "axis": {"tickCount": 11, "labelOverlap": false, "title": "No.EM Iteration"}}, "y": {"field": "lo", "type": "quantitative", "axis": {"tickCount": 31, "labelOverlap": false, "labelExpr": "datum.value > 0.0001 && round(datum.value*1000) % 5 === 0 ? format(datum.value, '~g') : ''", "title": "Est.Dᵧ (μm²/s)"}}, "y2": {"field": "q1"}}},
       {"mark": {"type": "bar", "filled": false, "color": "#0000ff", "width": 10, "strokeWidth": 1.2}, "encoding": {"x": {"field": "i", "type": "quantitative", "axis": {"tickCount": 11, "labelOverlap": false, "title": "No.EM Iteration"}}, "y": {"field": "q1", "type": "quantitative", "axis": {"tickCount": 31, "labelOverlap": false, "labelExpr": "datum.value > 0.0001 && round(datum.value*1000) % 5 === 0 ? format(datum.value, '~g') : ''", "title": "Est.Dᵧ (μm²/s)"}}, "y2": {"field": "q3"}}},
       {"mark": {"type": "tick", "orient": "horizontal", "color": "#ff0000", "size": 10, "thickness": 1.2}, "encoding": {"x": {"field": "i", "type": "quantitative", "axis": {"tickCount": 11, "labelOverlap": false, "title": "No.EM Iteration"}}, "y": {"field": "m", "type": "quantitative", "axis": {"tickCount": 31, "labelOverlap": false, "labelExpr": "datum.value > 0.0001 && round(datum.value*1000) % 5 === 0 ? format(datum.value, '~g') : ''", "title": "Est.Dᵧ (μm²/s)"}}}},
       {"mark": {"type": "tick", "orient": "horizontal", "color": "#000", "size": 5, "thickness": 1.2}, "encoding": {"x": {"field": "i", "type": "quantitative", "axis": {"tickCount": 11, "labelOverlap": false, "title": "No.EM Iteration"}}, "y": {"field": "hi", "type": "quantitative", "axis": {"tickCount": 31, "labelOverlap": false, "labelExpr": "datum.value > 0.0001 && round(datum.value*1000) % 5 === 0 ? format(datum.value, '~g') : ''", "title": "Est.Dᵧ (μm²/s)"}}}},
       {"mark": {"type": "tick", "orient": "horizontal", "color": "#000", "size": 5, "thickness": 1.2}, "encoding": {"x": {"field": "i", "type": "quantitative", "axis": {"tickCount": 11, "labelOverlap": false, "title": "No.EM Iteration"}}, "y": {"field": "lo", "type": "quantitative", "axis": {"tickCount": 31, "labelOverlap": false, "labelExpr": "datum.value > 0.0001 && round(datum.value*1000) % 5 === 0 ? format(datum.value, '~g') : ''", "title": "Est.Dᵧ (μm²/s)"}}}}
     ]},
     {"data": {"name": "o"}, "transform": [{"filter": "datum.p == 'c2'"}], "mark": {"type": "point", "shape": "M-1,0L1,0M0,-1L0,1", "filled": false, "color": "#ff0000", "size": 20, "strokeWidth": 1.2}, "encoding": {"x": {"field": "i", "type": "quantitative", "axis": {"tickCount": 11, "labelOverlap": false, "title": "No.EM Iteration"}}, "y": {"field": "v", "type": "quantitative", "axis": {"tickCount": 31, "labelOverlap": false, "labelExpr": "datum.value > 0.0001 && round(datum.value*1000) % 5 === 0 ? format(datum.value, '~g') : ''", "title": "Est.Dᵧ (μm²/s)"}}}},
     {"data": {"values": [{"r": 0.01}]}, "mark": {"type": "rule", "color": "#0072BD", "strokeWidth": 1.5}, "encoding": {"y": {"field": "r", "type": "quantitative", "axis": {"tickCount": 31, "labelOverlap": false, "labelExpr": "datum.value > 0.0001 && round(datum.value*1000) % 5 === 0 ? format(datum.value, '~g') : ''", "title": "Est.Dᵧ (μm²/s)"}}}}
    ]}
   ]},
   {"title": {"text": "(d) Parameter estimation by U-EM", "dx": 35}, "spacing": 15, "hconcat": [
    {"width": 220, "height": 202, "layer": [
     {"data": {"name": "b"}, "transform": [{"filter": "datum.p == 'd1'"}], "layer": [
       {"mark": {"type": "rule", "color": "#000"}, "encoding": {"x": {"field": "i", "type": "quantitative", "scale": {"domain": [-0.5, 10.5], "nice": false, "zero": false}, "axis": {"tickCount": 11, "labelOverlap": false, "title": "No.EM Iteration"}}, "y": {"field": "q3", "type": "quantitative", "scale": {"domain": [0, 0.0307], "nice": false, "zero": true}, "axis": {"tickCount": 31, "labelOverlap": false, "labelExpr": "datum.value > 0.0001 && round(datum.value*1000) % 5 === 0 ? format(datum.value, '~g') : ''", "title": "Est.Dₓ (μm²/s)", "titleFontStyle": "italic"}}, "y2": {"field": "hi"}}},
       {"mark": {"type": "rule", "color": "#000"}, "encoding": {"x": {"field": "i", "type": "quantitative", "axis": {"tickCount": 11, "labelOverlap": false, "title": "No.EM Iteration"}}, "y": {"field": "lo", "type": "quantitative", "axis": {"tickCount": 31, "labelOverlap": false, "labelExpr": "datum.value > 0.0001 && round(datum.value*1000) % 5 === 0 ? format(datum.value, '~g') : ''", "title": "Est.Dₓ (μm²/s)", "titleFontStyle": "italic"}}, "y2": {"field": "q1"}}},
       {"mark": {"type": "bar", "filled": false, "color": "#0000ff", "width": 10, "strokeWidth": 1.2}, "encoding": {"x": {"field": "i", "type": "quantitative", "axis": {"tickCount": 11, "labelOverlap": false, "title": "No.EM Iteration"}}, "y": {"field": "q1", "type": "quantitative", "axis": {"tickCount": 31, "labelOverlap": false, "labelExpr": "datum.value > 0.0001 && round(datum.value*1000) % 5 === 0 ? format(datum.value, '~g') : ''", "title": "Est.Dₓ (μm²/s)", "titleFontStyle": "italic"}}, "y2": {"field": "q3"}}},
       {"mark": {"type": "tick", "orient": "horizontal", "color": "#ff0000", "size": 10, "thickness": 1.2}, "encoding": {"x": {"field": "i", "type": "quantitative", "axis": {"tickCount": 11, "labelOverlap": false, "title": "No.EM Iteration"}}, "y": {"field": "m", "type": "quantitative", "axis": {"tickCount": 31, "labelOverlap": false, "labelExpr": "datum.value > 0.0001 && round(datum.value*1000) % 5 === 0 ? format(datum.value, '~g') : ''", "title": "Est.Dₓ (μm²/s)", "titleFontStyle": "italic"}}}},
       {"mark": {"type": "tick", "orient": "horizontal", "color": "#000", "size": 5, "thickness": 1.2}, "encoding": {"x": {"field": "i", "type": "quantitative", "axis": {"tickCount": 11, "labelOverlap": false, "title": "No.EM Iteration"}}, "y": {"field": "hi", "type": "quantitative", "axis": {"tickCount": 31, "labelOverlap": false, "labelExpr": "datum.value > 0.0001 && round(datum.value*1000) % 5 === 0 ? format(datum.value, '~g') : ''", "title": "Est.Dₓ (μm²/s)", "titleFontStyle": "italic"}}}},
       {"mark": {"type": "tick", "orient": "horizontal", "color": "#000", "size": 5, "thickness": 1.2}, "encoding": {"x": {"field": "i", "type": "quantitative", "axis": {"tickCount": 11, "labelOverlap": false, "title": "No.EM Iteration"}}, "y": {"field": "lo", "type": "quantitative", "axis": {"tickCount": 31, "labelOverlap": false, "labelExpr": "datum.value > 0.0001 && round(datum.value*1000) % 5 === 0 ? format(datum.value, '~g') : ''", "title": "Est.Dₓ (μm²/s)", "titleFontStyle": "italic"}}}}
     ]},
     {"data": {"name": "o"}, "transform": [{"filter": "datum.p == 'd1'"}], "mark": {"type": "point", "shape": "M-1,0L1,0M0,-1L0,1", "filled": false, "color": "#ff0000", "size": 20, "strokeWidth": 1.2}, "encoding": {"x": {"field": "i", "type": "quantitative", "axis": {"tickCount": 11, "labelOverlap": false, "title": "No.EM Iteration"}}, "y": {"field": "v", "type": "quantitative", "axis": {"tickCount": 31, "labelOverlap": false, "labelExpr": "datum.value > 0.0001 && round(datum.value*1000) % 5 === 0 ? format(datum.value, '~g') : ''", "title": "Est.Dₓ (μm²/s)", "titleFontStyle": "italic"}}}},
     {"data": {"values": [{"r": 0.005}]}, "mark": {"type": "rule", "color": "#0072BD", "strokeWidth": 1.5}, "encoding": {"y": {"field": "r", "type": "quantitative", "axis": {"tickCount": 31, "labelOverlap": false, "labelExpr": "datum.value > 0.0001 && round(datum.value*1000) % 5 === 0 ? format(datum.value, '~g') : ''", "title": "Est.Dₓ (μm²/s)", "titleFontStyle": "italic"}}}}
    ]},
    {"width": 220, "height": 202, "layer": [
     {"data": {"name": "b"}, "transform": [{"filter": "datum.p == 'd2'"}], "layer": [
       {"mark": {"type": "rule", "color": "#000"}, "encoding": {"x": {"field": "i", "type": "quantitative", "scale": {"domain": [-0.5, 10.5], "nice": false, "zero": false}, "axis": {"tickCount": 11, "labelOverlap": false, "title": "No.EM Iteration"}}, "y": {"field": "q3", "type": "quantitative", "scale": {"domain": [0, 0.0307], "nice": false, "zero": true}, "axis": {"tickCount": 31, "labelOverlap": false, "labelExpr": "datum.value > 0.0001 && round(datum.value*1000) % 5 === 0 ? format(datum.value, '~g') : ''", "title": "Est.Dᵧ (μm²/s)"}}, "y2": {"field": "hi"}}},
       {"mark": {"type": "rule", "color": "#000"}, "encoding": {"x": {"field": "i", "type": "quantitative", "axis": {"tickCount": 11, "labelOverlap": false, "title": "No.EM Iteration"}}, "y": {"field": "lo", "type": "quantitative", "axis": {"tickCount": 31, "labelOverlap": false, "labelExpr": "datum.value > 0.0001 && round(datum.value*1000) % 5 === 0 ? format(datum.value, '~g') : ''", "title": "Est.Dᵧ (μm²/s)"}}, "y2": {"field": "q1"}}},
       {"mark": {"type": "bar", "filled": false, "color": "#0000ff", "width": 10, "strokeWidth": 1.2}, "encoding": {"x": {"field": "i", "type": "quantitative", "axis": {"tickCount": 11, "labelOverlap": false, "title": "No.EM Iteration"}}, "y": {"field": "q1", "type": "quantitative", "axis": {"tickCount": 31, "labelOverlap": false, "labelExpr": "datum.value > 0.0001 && round(datum.value*1000) % 5 === 0 ? format(datum.value, '~g') : ''", "title": "Est.Dᵧ (μm²/s)"}}, "y2": {"field": "q3"}}},
       {"mark": {"type": "tick", "orient": "horizontal", "color": "#ff0000", "size": 10, "thickness": 1.2}, "encoding": {"x": {"field": "i", "type": "quantitative", "axis": {"tickCount": 11, "labelOverlap": false, "title": "No.EM Iteration"}}, "y": {"field": "m", "type": "quantitative", "axis": {"tickCount": 31, "labelOverlap": false, "labelExpr": "datum.value > 0.0001 && round(datum.value*1000) % 5 === 0 ? format(datum.value, '~g') : ''", "title": "Est.Dᵧ (μm²/s)"}}}},
       {"mark": {"type": "tick", "orient": "horizontal", "color": "#000", "size": 5, "thickness": 1.2}, "encoding": {"x": {"field": "i", "type": "quantitative", "axis": {"tickCount": 11, "labelOverlap": false, "title": "No.EM Iteration"}}, "y": {"field": "hi", "type": "quantitative", "axis": {"tickCount": 31, "labelOverlap": false, "labelExpr": "datum.value > 0.0001 && round(datum.value*1000) % 5 === 0 ? format(datum.value, '~g') : ''", "title": "Est.Dᵧ (μm²/s)"}}}},
       {"mark": {"type": "tick", "orient": "horizontal", "color": "#000", "size": 5, "thickness": 1.2}, "encoding": {"x": {"field": "i", "type": "quantitative", "axis": {"tickCount": 11, "labelOverlap": false, "title": "No.EM Iteration"}}, "y": {"field": "lo", "type": "quantitative", "axis": {"tickCount": 31, "labelOverlap": false, "labelExpr": "datum.value > 0.0001 && round(datum.value*1000) % 5 === 0 ? format(datum.value, '~g') : ''", "title": "Est.Dᵧ (μm²/s)"}}}}
     ]},
     {"data": {"name": "o"}, "transform": [{"filter": "datum.p == 'd2'"}], "mark": {"type": "point", "shape": "M-1,0L1,0M0,-1L0,1", "filled": false, "color": "#ff0000", "size": 20, "strokeWidth": 1.2}, "encoding": {"x": {"field": "i", "type": "quantitative", "axis": {"tickCount": 11, "labelOverlap": false, "title": "No.EM Iteration"}}, "y": {"field": "v", "type": "quantitative", "axis": {"tickCount": 31, "labelOverlap": false, "labelExpr": "datum.value > 0.0001 && round(datum.value*1000) % 5 === 0 ? format(datum.value, '~g') : ''", "title": "Est.Dᵧ (μm²/s)"}}}},
     {"data": {"values": [{"r": 0.01}]}, "mark": {"type": "rule", "color": "#0072BD", "strokeWidth": 1.5}, "encoding": {"y": {"field": "r", "type": "quantitative", "axis": {"tickCount": 31, "labelOverlap": false, "labelExpr": "datum.value > 0.0001 && round(datum.value*1000) % 5 === 0 ? format(datum.value, '~g') : ''", "title": "Est.Dᵧ (μm²/s)"}}}}
    ]}
   ]}
  ]}
 ]
}
